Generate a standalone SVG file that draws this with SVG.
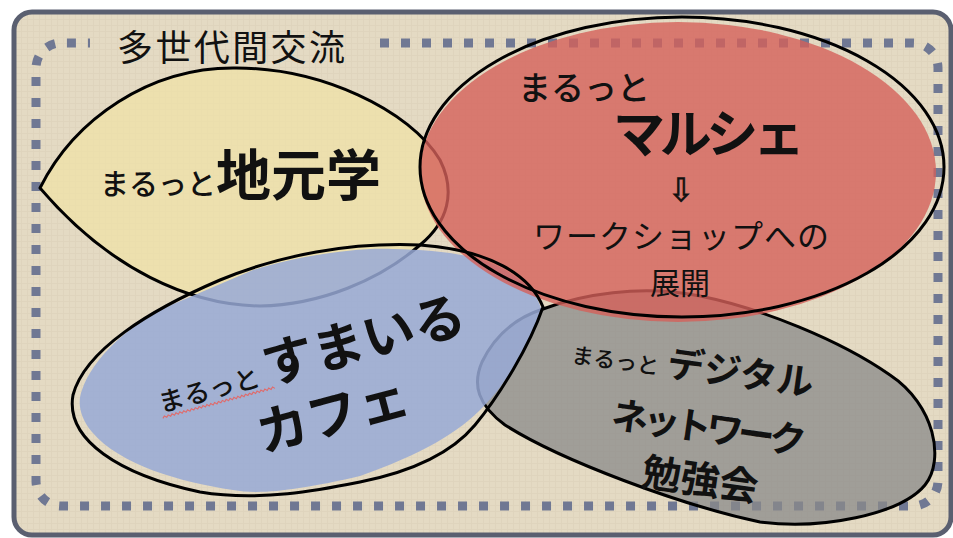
<svg xmlns="http://www.w3.org/2000/svg" width="953" height="538" viewBox="0 0 953 538">
<defs>
<pattern id="linen" width="6" height="6" patternUnits="userSpaceOnUse">
<rect width="6" height="6" fill="#e4dac3"/>
<path d="M0 1.5H6M3.5 0V6" stroke="#cdbfa3" stroke-width="0.8" opacity="0.25"/>
</pattern>
<clipPath id="frameClip"><rect x="14" y="12" width="937" height="523" rx="18"/></clipPath>
</defs>
<style>
.t{font-family:"Noto Sans CJK JP","Noto Sans CJK SC",sans-serif;fill:#111;}
.b{font-weight:700;}
.ol{fill:none;stroke:#000;stroke-width:3;stroke-linejoin:round;}
</style>
<rect width="953" height="538" fill="#ffffff"/>
<rect x="14" y="12" width="937" height="523" rx="18" fill="url(#linen)"/>
<g clip-path="url(#frameClip)">
<path id="dots" d="M380 43H913A25 25 0 0 1 938 68V481A25 25 0 0 1 913 506H61A25 25 0 0 1 36 481V68A25 25 0 0 1 61 43H90" fill="none" stroke="#707893" stroke-width="9" stroke-dasharray="9 12"/>
</g>
<text class="t" x="117" y="61" font-size="36" textLength="228" lengthAdjust="spacing">多世代間交流</text>

<g id="jimoto">
<path d="M40 188C75 118 150 68 233 68C320 67 410 110 440 160C456 192 448 222 420 245C380 280 320 305 260 306C190 305 110 270 40 188Z" fill="#f0e2a6" fill-opacity="0.72"/>
<path class="ol" d="M40 188C75 118 150 68 233 68C320 67 410 110 440 160C456 192 448 222 420 245C380 280 320 305 260 306C190 305 110 270 40 188Z"/>
<text class="t" x="100" y="195" font-size="29" font-weight="500">まるっと<tspan class="b" font-size="55">地元学</tspan></text>
</g>

<g id="digital">
<path id="greyShape" d="M543 309C580 295 640 284 700 296C760 308 840 340 890 375C935 405 945 460 925 485C900 515 820 530 760 522C680 505 560 460 505 425C478 405 472 385 482 362C495 335 515 318 543 309Z" fill="#8a8a8a" fill-opacity="0.75" stroke="#000" stroke-width="3"/>
</g>

<g id="cafe-fill">
<path d="M253 270C300 255 360 247 393 249C440 250 480 255 505 270C525 282 538 295 541 309C530 345 505 385 484 406C460 432 420 455 360 476C300 490 260 495 233 490C180 482 120 465 92 432C78 415 78 400 82 390C92 360 130 320 183 300Z" fill="#98a9d6" fill-opacity="0.85"/>
</g>

<g id="marche-fill">
<ellipse cx="678" cy="172" rx="258" ry="150" fill="#d4605a" fill-opacity="0.8"/>
</g>

<g id="cafe">
<path class="ol" d="M543 307C530 275 490 250 420 245C350 242 280 255 220 280C150 310 85 350 73 395C65 440 120 475 200 492C260 502 320 490 360 482C410 472 450 455 475 425C500 395 530 345 543 307Z"/>
<g transform="rotate(-15 310 380)">
<text class="t" x="158" y="373" font-size="26" font-weight="500">まるっと</text>
<path d="M158 379l2 -2l2 2l2 -2l2 2l2 -2l2 2l2 -2l2 2l2 -2l2 2l2 -2l2 2l2 -2l2 2l2 -2l2 2l2 -2l2 2l2 -2l2 2l2 -2l2 2l2 -2l2 2l2 -2l2 2l2 -2l2 2l2 -2l2 2l2 -2l2 2l2 -2l2 2l2 -2l2 2l2 -2l2 2l2 -2l2 2l2 -2l2 2l2 -2l2 2l2 -2l2 2l2 -2l2 2l2 -2l2 2l2 -2l2 2l2 -2l2 2l2 -2l2 2l2 -2l2 2" fill="none" stroke="#e06a6a" stroke-width="1.1"/>
<text class="t b" x="268" y="374" font-size="52">すまいる</text>
<text class="t b" x="245" y="438" font-size="52">カフェ</text>
</g>
</g>

<g id="marche">
<ellipse class="ol" cx="682" cy="167" rx="262" ry="150"/>
<text class="t" x="518" y="100" font-size="33" font-weight="500">まるっと</text>
<text class="t b" x="613" y="153" font-size="52" textLength="192" lengthAdjust="spacing">マルシェ</text>
<text x="681" y="201" font-size="32" text-anchor="middle" font-family="DejaVu Sans, sans-serif" fill="#111" stroke="#111" stroke-width="0.7">⇩</text>
<text class="t" x="533" y="248" font-size="32" textLength="296" lengthAdjust="spacing">ワークショップへの</text>
<text class="t" x="650" y="294" font-size="30">展開</text>
</g>

<g id="digital-text" transform="rotate(8 700 420)">
<text class="t" x="564" y="381" font-size="22" font-weight="500">まるっと</text>
<text class="t b" x="660" y="381" font-size="37">デジタル</text>
<text class="t b" x="612" y="440" font-size="37" textLength="196" lengthAdjust="spacing">ネットワーク</text>
<text class="t b" x="650" y="493" font-size="39">勉強会</text>
</g>

<rect x="14" y="12" width="937" height="523" rx="18" fill="none" stroke="#5a5f70" stroke-width="5"/>
</svg>
